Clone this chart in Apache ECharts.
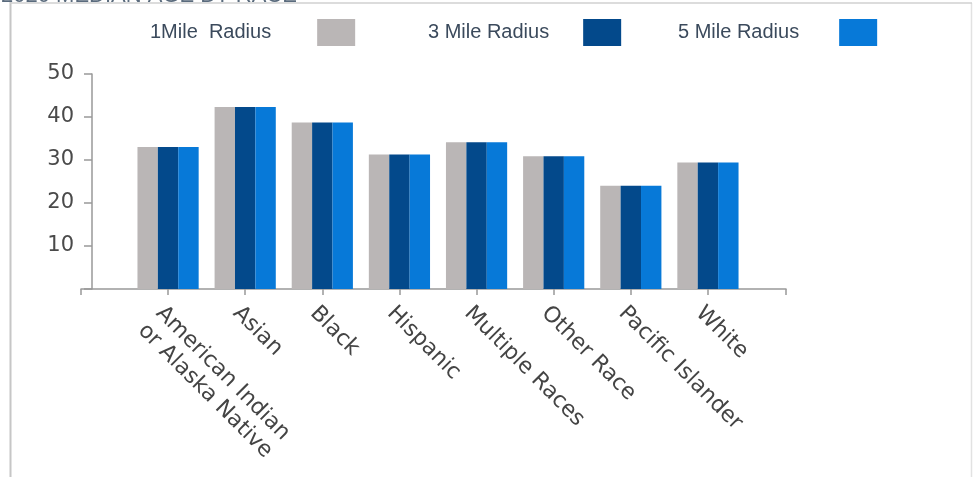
<!DOCTYPE html>
<html>
<head>
<meta charset="utf-8">
<script src="https://cdn.jsdelivr.net/npm/echarts@6/dist/echarts.min.js"></script>
<style>
html,body{margin:0;padding:0;background:#fff;}
#chart{width:978px;height:477px;}
</style>
</head>
<body>
<div id="chart"></div>
<script>
const categories = ['American Indian\nor Alaska Native', 'Asian', 'Black', 'Hispanic', 'Multiple Races', 'Other Race', 'Pacific Islander', 'White'];
const seriesNames = ['1Mile  Radius', '3 Mile Radius', '5 Mile Radius'];
const mile1 = [33.0, 42.3, 38.7, 31.3, 34.1, 30.9, 24.0, 29.4];
const mile3 = [33.0, 42.3, 38.7, 31.3, 34.1, 30.9, 24.0, 29.4];
const mile5 = [33.0, 42.3, 38.7, 31.3, 34.1, 30.9, 24.0, 29.4];
const yTicks = [0, 10, 20, 30, 40, 50];
const titleText = '2020 MEDIAN AGE BY RACE';

const colors = ['#bab6b6', '#03498b', '#0779d8'];
const axisColor = '#999';
const labelFont = 'DejaVu Sans';

const chart = echarts.init(document.getElementById('chart'), null, {renderer: 'canvas'});

function legendFor(i, left, gap) {
  return {
    data: [seriesNames[i]],
    left: left,
    top: 14,
    align: 'right',
    itemWidth: 38,
    itemHeight: 27,
    icon: 'rect',
    selectedMode: false,
    textStyle: {
      fontFamily: 'Liberation Sans',
      fontSize: 20,
      color: '#3b4a5c',
      padding: [0, gap, 0, 0]
    }
  };
}

const option = {
  animation: false,
  backgroundColor: '#fff',
  title: {
    text: titleText,
    left: -4,
    top: -20,
    textStyle: {fontFamily: 'Liberation Sans', fontSize: 22, color: '#5a6b7d', fontWeight: 'normal'}
  },
  legend: [
    legendFor(0, 145, 41),
    legendFor(1, 423, 29),
    legendFor(2, 673, 35)
  ],
  graphic: [
    {type: 'line', shape: {x1: 10.5, y1: 0, x2: 10.5, y2: 477}, style: {stroke: '#c6c6c6', lineWidth: 2}, silent: true},
    {type: 'line', shape: {x1: 971.5, y1: 3, x2: 971.5, y2: 477}, style: {stroke: '#e2e2e2', lineWidth: 1.5}, silent: true},
    {type: 'line', shape: {x1: 10, y1: 3, x2: 972, y2: 3}, style: {stroke: '#d0d0d0', lineWidth: 1.5}, silent: true}
  ],
  grid: [
    {left: 129.5, right: 231.5, top: 74, bottom: 188, containLabel: false},
    {left: 81, right: 192, top: 74, bottom: 188, containLabel: false}
  ],
  xAxis: [
    {
      type: 'category',
      gridIndex: 0,
      data: categories,
      axisLine: {show: false},
      axisTick: {show: true, alignWithLabel: true, length: 6, lineStyle: {color: axisColor, width: 1.5}},
      axisLabel: {
        interval: 0,
        rotate: -45,
        margin: 12,
        verticalAlign: 'top',
        fontFamily: labelFont,
        fontSize: 22,
        lineHeight: 25,
        color: '#444'
      },
      splitLine: {show: false}
    },
    {
      type: 'value',
      gridIndex: 1,
      min: 0,
      max: 1,
      interval: 1,
      axisLine: {show: true, lineStyle: {color: axisColor, width: 1.5}},
      axisTick: {show: true, length: 6, lineStyle: {color: axisColor, width: 1.5}},
      axisLabel: {show: false},
      splitLine: {show: false}
    }
  ],
  yAxis: [
    {
      type: 'value',
      gridIndex: 0,
      min: yTicks[0],
      max: yTicks[yTicks.length - 1],
      interval: yTicks[1] - yTicks[0],
      offset: 37.5,
      axisLine: {show: true, lineStyle: {color: axisColor, width: 1.5}},
      axisTick: {show: true, length: 8, lineStyle: {color: axisColor, width: 1.5}},
      axisLabel: {
        margin: 18,
        fontFamily: labelFont,
        fontSize: 21,
        color: '#4a4a4a',
        formatter: function (v) { return v === 0 ? '' : String(v); }
      },
      splitLine: {show: false}
    },
    {
      type: 'value',
      gridIndex: 1,
      show: false
    }
  ],
  series: [
    {name: seriesNames[0], type: 'bar', xAxisIndex: 0, yAxisIndex: 0, data: mile1, barWidth: 20.4, barGap: '0%', itemStyle: {color: colors[0]}},
    {name: seriesNames[1], type: 'bar', xAxisIndex: 0, yAxisIndex: 0, data: mile3, barWidth: 20.4, barGap: '0%', itemStyle: {color: colors[1]}},
    {name: seriesNames[2], type: 'bar', xAxisIndex: 0, yAxisIndex: 0, data: mile5, barWidth: 20.4, barGap: '0%', itemStyle: {color: colors[2]}}
  ]
};

chart.setOption(option);
</script>
</body>
</html>
